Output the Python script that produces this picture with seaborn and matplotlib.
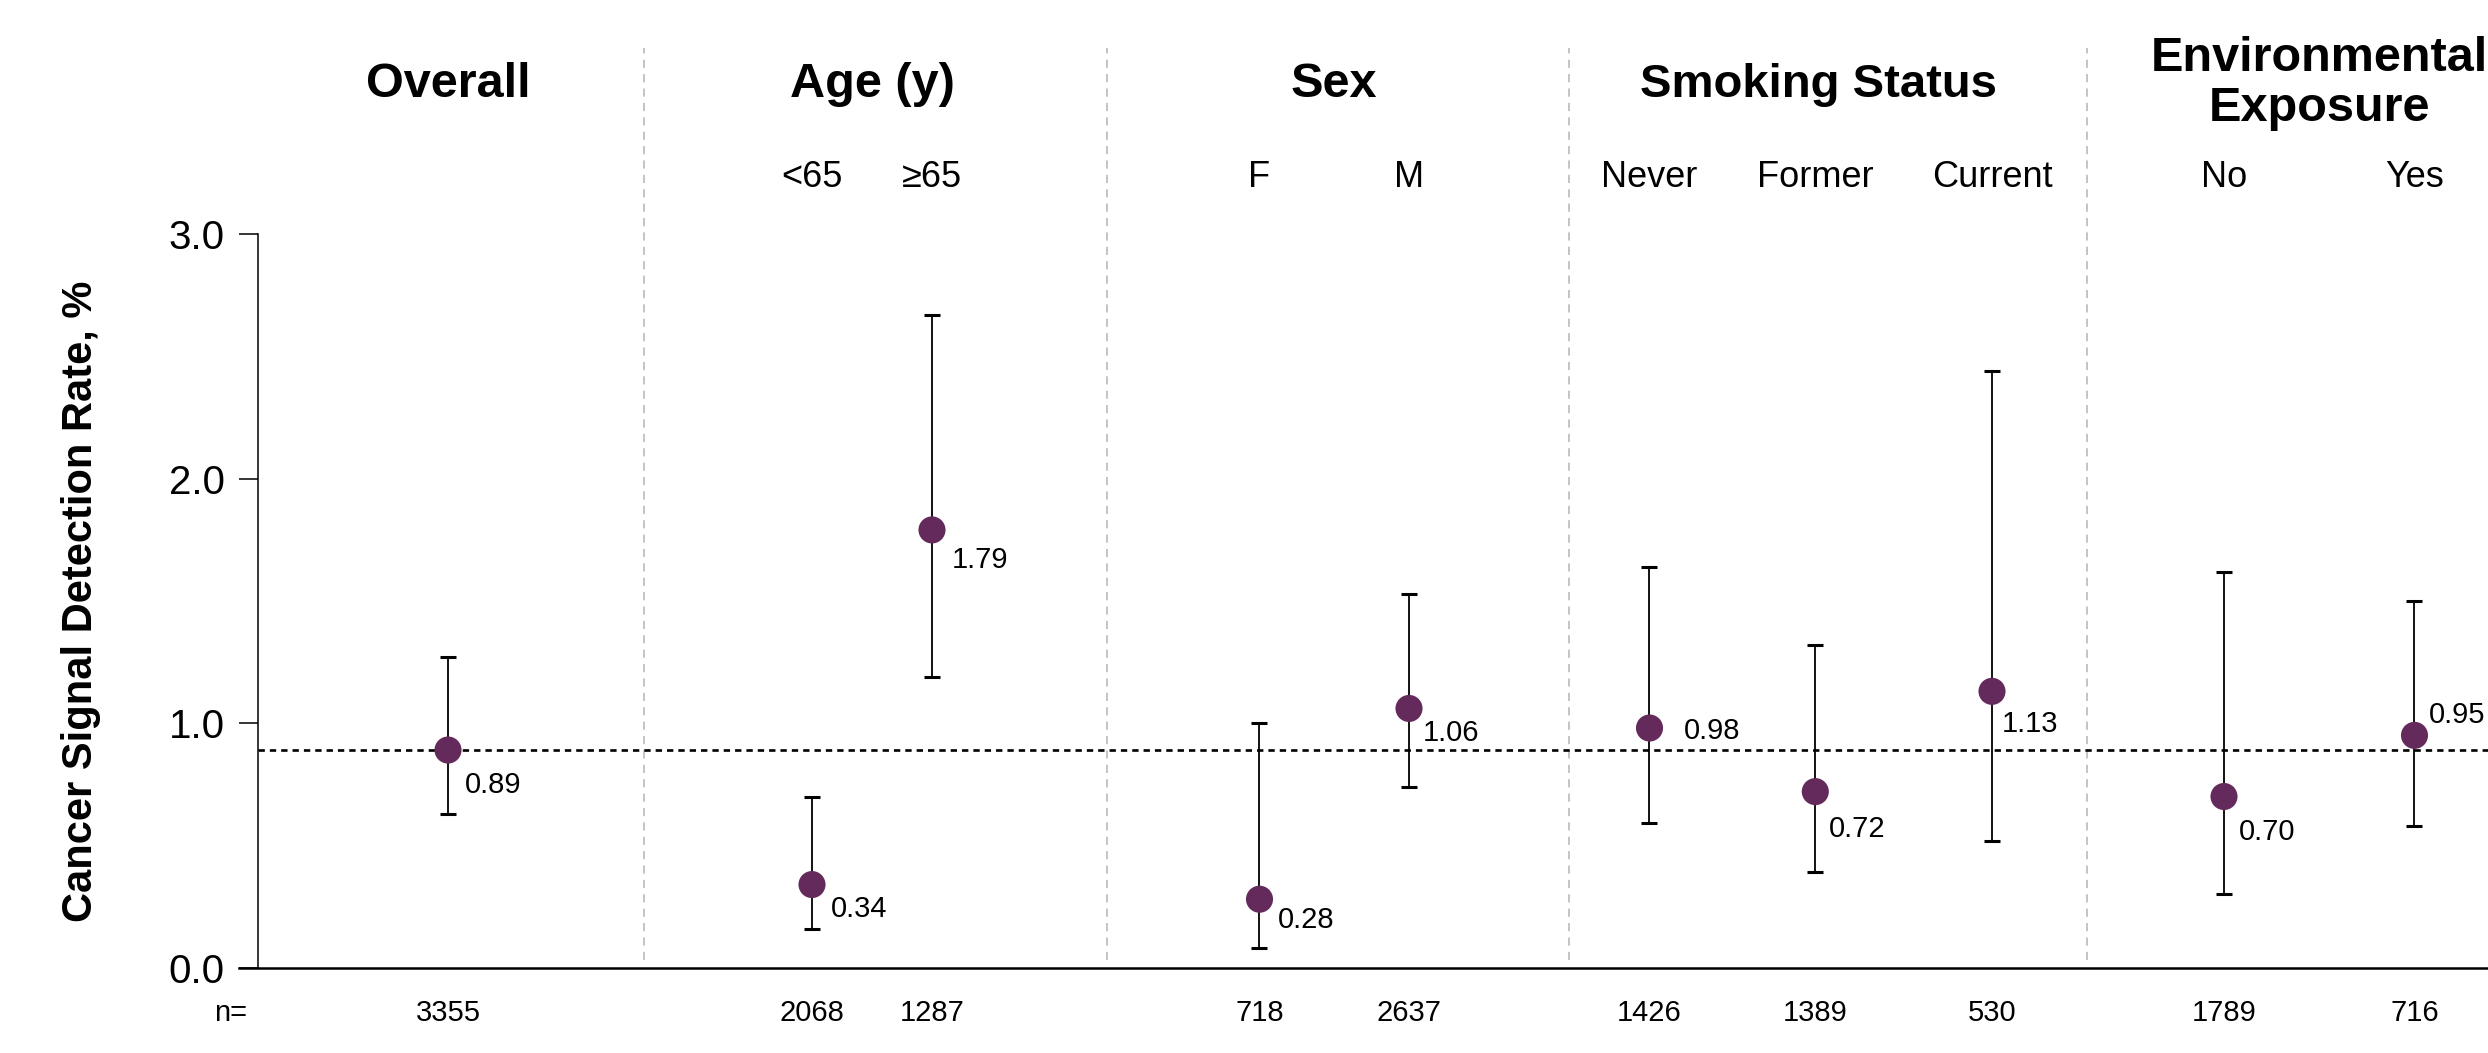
import matplotlib
matplotlib.use("Agg")
import matplotlib.pyplot as plt
import seaborn as sns
import numpy as np
import pandas as pd

# ---------------- data ----------------
groups = ["Overall", "Age (y)", "Age (y)", "Sex", "Sex",
          "Smoking Status", "Smoking Status", "Smoking Status",
          "Environmental\nExposure", "Environmental\nExposure"]
subgroups = ["", "<65", "≥65", "F", "M", "Never", "Former", "Current", "No", "Yes"]
rates = [0.89, 0.34, 1.79, 0.28, 1.06, 0.98, 0.72, 1.13, 0.70, 0.95]
ci_low = [0.63, 0.16, 1.19, 0.08, 0.74, 0.59, 0.39, 0.52, 0.30, 0.58]
ci_high = [1.27, 0.70, 2.67, 1.00, 1.53, 1.64, 1.32, 2.44, 1.62, 1.50]
n_values = [3355, 2068, 1287, 718, 2637, 1426, 1389, 530, 1789, 716]
y_ticks = [0.0, 1.0, 2.0, 3.0]
y_label = "Cancer Signal Detection Rate, %"

# ---------------- layout ----------------
x_pos = [1.905, 5.545, 6.745, 10.02, 11.515, 13.92, 15.578, 17.345, 19.665, 21.57]
sep_pos = [3.865, 8.495, 13.115, 18.295]
# label offsets in pixels (dx to left edge, dy up)
label_off = [(17, -32), (19, -21), (20, -27), (18, -18), (14, -22),
             (34, 0), (14, -34), (10, -30), (15, -32), (14, 23)]
title_size = {"Overall": 35, "Age (y)": 35, "Sex": 35, "Smoking Status": 34,
              "Environmental\nExposure": 35}
title_base_px = {"Overall": 97, "Age (y)": 97, "Sex": 97, "Smoking Status": 97,
                 "Environmental\nExposure": 121}

W, H = 2488, 1053
sns.set_theme(style="white")
plt.rcParams["font.family"] = ["Liberation Sans", "DejaVu Sans"]
plt.rcParams["text.color"] = "black"
plt.rcParams["axes.labelcolor"] = "black"
plt.rcParams["ytick.color"] = "black"
plt.rcParams["xtick.color"] = "black"

fig = plt.figure(figsize=(W / 100, H / 100), dpi=100)
y0_px, y3_px, ax_left_px = 967.7, 234.0, 238.5
px_per_unit = (y0_px - y3_px) / 3
ax = fig.add_axes([ax_left_px / W, (H - y0_px) / H,
                   (W - ax_left_px) / W, (y0_px - y3_px) / H])
ax.set_xlim(-0.19, (W - 257.5) / 100)
ax.set_ylim(0, 3)


def ydat(px):
    return (y0_px - px) / px_per_unit


purple = "#632A5B"

df = pd.DataFrame({"x": x_pos, "rate": rates, "lo": ci_low, "hi": ci_high,
                   "group": groups, "sub": subgroups, "n": n_values})

# reference line at overall rate
xmin_frac = 0.19 / (ax.get_xlim()[1] + 0.19)
ax.axhline(rates[0], xmin=xmin_frac, xmax=1, color="black", lw=1.9,
           ls=(0, (2.4, 1.9)), zorder=1)

# separators
ax.vlines(sep_pos, 0.03, 3.76, colors="#c4c4c4", lw=1.4,
          linestyles=(0, (4.2, 3.2)), clip_on=False, zorder=0)

# error bars
ax.errorbar(df["x"], df["rate"],
            yerr=[df["rate"] - df["lo"], df["hi"] - df["rate"]],
            fmt="none", ecolor="black", elinewidth=1.3, capsize=6,
            capthick=2.2, zorder=2)

sns.scatterplot(data=df, x="x", y="rate", ax=ax, s=19.5 ** 2, color=purple,
                edgecolor="none", linewidth=0, zorder=3, legend=False)

# value labels
for xi, r, (dx, dy) in zip(x_pos, rates, label_off):
    ax.annotate(f"{r:.2f}", (xi, r), xytext=(dx, dy), textcoords="offset pixels",
                ha="left", va="center_baseline", fontsize=21, color="black")

# subgroup labels and n values
for xi, s, n in zip(x_pos, subgroups, n_values):
    if s:
        ax.text(xi, ydat(187), s, ha="center", va="baseline", fontsize=26)
    ax.text(xi, ydat(1020.7), str(n), ha="center", va="baseline", fontsize=21)
ax.text(-0.265, ydat(1020.7), "n=", ha="center", va="baseline", fontsize=21)

# group titles
uniq = list(dict.fromkeys(groups))
for g in uniq:
    xs = [x for x, gg in zip(x_pos, groups) if gg == g]
    ax.text(np.mean(xs), ydat(title_base_px[g]), g, ha="center", va="baseline",
            fontsize=title_size[g], fontweight="bold", linespacing=1.15)

# axes styling
for s in ["top", "right"]:
    ax.spines[s].set_visible(False)
ax.spines["left"].set_position(("data", 0))
ax.spines["left"].set_bounds(0, 3)
ax.spines["left"].set_linewidth(1.1)
ax.spines["left"].set_color("black")
ax.spines["bottom"].set_linewidth(1.8)
ax.spines["bottom"].set_color("black")
ax.set_xticks([])
ax.set_yticks(y_ticks)
ax.set_yticklabels([f"{t:.1f}" for t in y_ticks])
ax.tick_params(axis="y", direction="out", length=13.7, width=1.1, pad=9.7,
               labelsize=29, color="black", labelcolor="black", left=True)
ax.set_xlabel("")
ax.set_ylabel(y_label, fontsize=30, fontweight="bold", color="black")
ax.yaxis.set_label_coords((101 - ax_left_px) / (W - ax_left_px), 0.5)
ax.patch.set_alpha(0)

fig.savefig("out.png", dpi=100, facecolor="white")
